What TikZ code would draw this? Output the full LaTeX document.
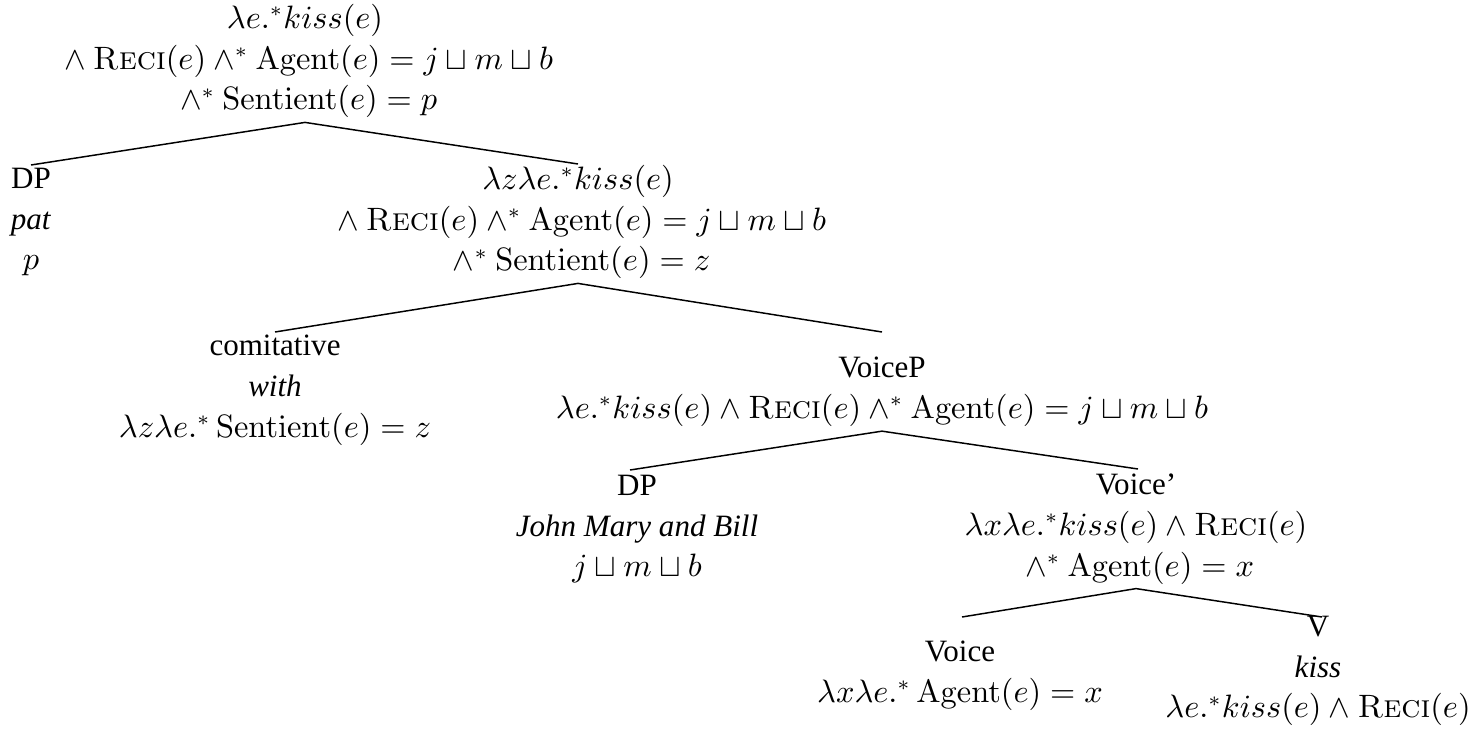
\documentclass[tikz,border=0pt]{standalone}
\usepackage[no-math]{fontspec}
\setmainfont{Liberation Serif}
\newcommand\RECI{\mbox{\fontencoding{OT1}\fontfamily{cmr}\selectfont\scshape Reci}}
\newcommand\Ag{\mathrm{Agent}}
\newcommand\Se{\mathrm{Sentient}}
\begin{document}
\begin{tikzpicture}[x=0.3383pt,y=-0.3383pt,
  lbl/.style={align=center,inner sep=0pt,outer sep=1.5pt,font=\fontsize{10.5}{13.8}\selectfont},
  branch/.style={draw,line width=0.5pt}]
\useasboundingbox (0,0) rectangle (1478,729);
\node[lbl] (root) at (305,61) {$\lambda e.^{*}kiss(e)$\\ ${}\wedge\RECI(e)\wedge^{*}\Ag(e)=j\sqcup m\sqcup b$\\ ${}\wedge^{*}\Se(e)=p$};
\node[lbl] (dp1) at (31,222) {DP\\ \textit{pat}\\ $p$};
\node[lbl] (n2) at (578,222) {$\lambda z\lambda e.^{*}kiss(e)$\\ ${}\wedge\RECI(e)\wedge^{*}\Ag(e)=j\sqcup m\sqcup b$\\ ${}\wedge^{*}\Se(e)=z$};
\node[lbl] (comit) at (275,390) {comitative\\ \textit{with}\\ $\lambda z\lambda e.^{*}\,\Se(e)=z$};
\node[lbl] (voicep) at (882,392) {VoiceP\\ $\lambda e.^{*}kiss(e)\wedge\RECI(e)\wedge^{*}\Ag(e)=j\sqcup m\sqcup b$};
\node[lbl] (dp2) at (637,529) {DP\\ \textit{John Mary and Bill}\\ $j\sqcup m\sqcup b$};
\node[lbl] (vbar) at (1136,529) {Voice'\\ $\lambda x\lambda e.^{*}kiss(e)\wedge\RECI(e)$\\ ${}\wedge^{*}\Ag(e)=x$};
\node[lbl] (voice) at (960,676) {Voice\\ $\lambda x\lambda e.^{*}\,\Ag(e)=x$};
\node[lbl] (v) at (1318,671) {V\\ \textit{kiss}\\ $\lambda e.^{*}kiss(e)\wedge\RECI(e)$};
\coordinate (dp1t) at (31,165);
\coordinate (n2t) at (578,164);
\coordinate (comitt) at (275,332);
\coordinate (voicept) at (882,332);
\coordinate (dp2t) at (630,470);
\coordinate (vbart) at (1138,469);
\coordinate (voicet) at (962,617);
\coordinate (vt) at (1322,617);
\draw[branch] (dp1t) -- (root.south) -- (n2t);
\draw[branch] (comitt) -- (n2.south) -- (voicept);
\draw[branch] (dp2t) -- (voicep.south) -- (vbart);
\draw[branch] (voicet) -- (vbar.south) -- (vt);
\end{tikzpicture}
\end{document}
